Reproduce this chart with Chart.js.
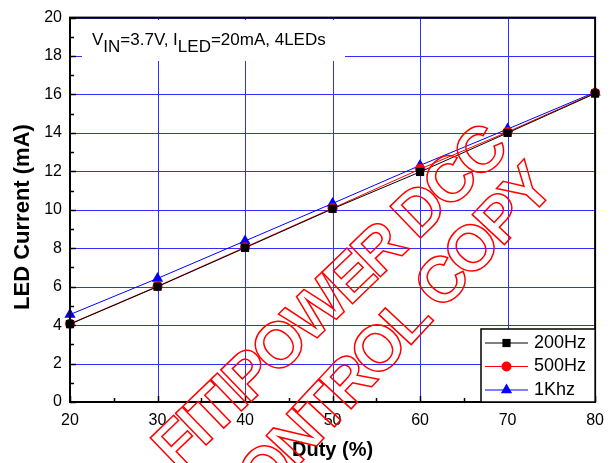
<!DOCTYPE html>
<html>
<head>
<meta charset="utf-8">
<script src="https://cdn.jsdelivr.net/npm/chart.js@4/dist/chart.umd.min.js"></script>
<style>
  html, body { margin: 0; padding: 0; background: #ffffff; }
  #wrap { width: 613px; height: 463px; }
</style>
</head>
<body>
<div id="wrap"><canvas id="c" width="613" height="463"></canvas></div>
<script>
// ---- data ----
const duty = [20, 30, 40, 50, 60, 70, 80];
const current200Hz = [4.05, 6.0, 8.02, 10.05, 11.97, 14.0, 16.05];
const current500Hz = [4.07, 6.02, 8.05, 10.08, 12.12, 14.05, 16.08];
const current1Khz = [4.55, 6.43, 8.38, 10.33, 12.31, 14.2, 16.12];
const seriesNames = ['200Hz', '500Hz', '1Khz'];
const xTickValues = [20, 30, 40, 50, 60, 70, 80];
const yTickValues = [0, 2, 4, 6, 8, 10, 12, 14, 16, 18, 20];
const xTitle = 'Duty (%)';
const yTitle = 'LED Current (mA)';
const noteParts = [['V', false], ['IN', true], ['=3.7V, I', false], ['LED', true], ['=20mA, 4LEDs', false]];
const watermarkLines = ['FITIPOWER DCC', 'CONTROL COPY'];

const FONT = '"Liberation Sans", Arial, sans-serif';
const GRID = '#2f2fff';
const toPoints = arr => duty.map((d, i) => ({ x: d, y: arr[i] }));

const styles = [
  { color: '#000000', point: 'rect', radius: 5.8 },
  { color: '#ff0000', point: 'circle', radius: 5 },
  { color: '#0000ff', point: 'triangle', radius: 6.5 }
];
const seriesData = [current200Hz, current500Hz, current1Khz];

const datasets = seriesData.map((arr, i) => ({
  label: seriesNames[i],
  data: toPoints(arr),
  borderColor: styles[i].color,
  backgroundColor: styles[i].color,
  borderWidth: 1,
  pointStyle: styles[i].point,
  pointRadius: styles[i].radius,
  pointBorderWidth: 0,
  pointHoverRadius: styles[i].radius,
  tension: 0,
  clip: false
}));

const chartDecor = {
  id: 'chartDecor',
  beforeDatasetsDraw(chart) {
    const ctx = chart.ctx;
    const a = chart.chartArea;
    const xs = chart.scales.x, ys = chart.scales.y;
    ctx.save();
    // grid lines from the scales' ticks
    ctx.strokeStyle = GRID;
    ctx.lineWidth = 1;
    ctx.beginPath();
    xs.ticks.forEach(t => {
      const px = Math.round(xs.getPixelForValue(t.value)) + 0.5;
      ctx.moveTo(px, a.top); ctx.lineTo(px, a.bottom);
    });
    ys.ticks.forEach(t => {
      const py = Math.round(ys.getPixelForValue(t.value)) + 0.5;
      ctx.moveTo(a.left, py); ctx.lineTo(a.right, py);
    });
    ctx.stroke();
    // annotation box covering the grid
    ctx.fillStyle = '#ffffff';
    ctx.fillRect(82, 20, 263, 41);
    let x = 92;
    const base = 45;
    for (const [txt, sub] of noteParts) {
      ctx.font = '17px ' + FONT;
      ctx.fillStyle = '#000';
      ctx.textBaseline = 'alphabetic';
      ctx.textAlign = 'left';
      ctx.fillText(txt, x, sub ? base + 7 : base);
      x += ctx.measureText(txt).width;
    }
    ctx.restore();
  },
  afterDraw(chart) {
    const ctx = chart.ctx;
    const a = chart.chartArea;
    const xs = chart.scales.x, ys = chart.scales.y;
    ctx.save();
    // frame
    ctx.strokeStyle = '#000';
    ctx.lineWidth = 2;
    ctx.strokeRect(a.left, a.top, a.right - a.left, a.bottom - a.top);
    // inward ticks
    ctx.lineWidth = 1.5;
    ctx.beginPath();
    for (let v = 20; v <= 80; v += 5) {
      const px = Math.round(xs.getPixelForValue(v)) + 0.5;
      const len = (v % 10 === 0) ? 6 : 4;
      ctx.moveTo(px, a.bottom); ctx.lineTo(px, a.bottom - len);
    }
    for (let v = 0; v <= 20; v += 1) {
      const py = Math.round(ys.getPixelForValue(v)) + 0.5;
      const len = (v % 2 === 0) ? 6 : 4;
      ctx.moveTo(a.left, py); ctx.lineTo(a.left + len, py);
    }
    ctx.stroke();

    // y title
    ctx.font = 'bold 22px ' + FONT;
    ctx.fillStyle = '#000';
    ctx.textAlign = 'center';
    ctx.textBaseline = 'middle';
    ctx.translate(23, 217);
    ctx.rotate(-Math.PI / 2);
    ctx.fillText(yTitle, 0, 0);
    ctx.setTransform(1, 0, 0, 1, 0, 0);

    // legend
    const lx = 481, ly = 329, lw = a.right - lx, lh = a.bottom - ly;
    ctx.fillStyle = '#fff';
    ctx.fillRect(lx, ly, lw, lh);
    ctx.strokeStyle = '#000';
    ctx.lineWidth = 1.5;
    ctx.strokeRect(lx, ly, lw, lh);
    const rows = [343, 366.5, 390];
    chart.data.datasets.forEach((ds, i) => {
      const y = rows[i];
      ctx.strokeStyle = ds.borderColor;
      ctx.lineWidth = 1;
      ctx.beginPath();
      ctx.moveTo(485, y); ctx.lineTo(528, y);
      ctx.stroke();
      ctx.fillStyle = ds.backgroundColor;
      Chart.helpers.drawPoint(ctx, { pointStyle: ds.pointStyle, radius: ds.pointRadius, rotation: 0, borderWidth: 0 }, 506.5, y);
      ctx.fillStyle = '#000';
      ctx.font = '18px ' + FONT;
      ctx.textAlign = 'left';
      ctx.textBaseline = 'middle';
      ctx.fillText(ds.label, 534, y);
    });

    // watermark
    ctx.font = 'bold 64px ' + FONT;
    try { ctx.letterSpacing = '-4px'; } catch (e) {}
    ctx.strokeStyle = '#ff0000';
    ctx.lineWidth = 1.5;
    ctx.lineJoin = 'miter';
    ctx.textAlign = 'center';
    ctx.textBaseline = 'middle';
    const wm = [[331, 300, -44], [382, 350, -47]];
    watermarkLines.forEach((t, i) => {
      ctx.setTransform(1, 0, 0, 1, 0, 0);
      ctx.translate(wm[i][0], wm[i][1]);
      ctx.rotate(wm[i][2] * Math.PI / 180);
      ctx.strokeText(t, 0, 0);
    });
    ctx.restore();
  }
};

new Chart(document.getElementById('c'), {
  type: 'line',
  data: { datasets },
  options: {
    responsive: false,
    animation: false,
    devicePixelRatio: 1,
    layout: { padding: { top: 14, right: 14, left: 0, bottom: 0 } },
    plugins: { legend: { display: false }, tooltip: { enabled: false } },
    scales: {
      x: {
        type: 'linear',
        min: 20, max: 80,
        afterBuildTicks: s => { s.ticks = xTickValues.map(v => ({ value: v })); },
        afterFit: s => { s.height = 61; },
        ticks: { color: '#000', font: { family: FONT, size: 16 }, padding: 9, maxRotation: 0 },
        grid: { display: false, drawTicks: false },
        border: { display: true, color: '#000', width: 2 },
        title: { display: true, text: xTitle, color: '#000', font: { family: FONT, size: 20, weight: 'bold' }, padding: { top: 0, bottom: 1 } }
      },
      y: {
        type: 'linear',
        min: 0, max: 20,
        afterBuildTicks: s => { s.ticks = yTickValues.map(v => ({ value: v })); },
        afterFit: s => { s.width = 70; },
        ticks: { color: '#000', font: { family: FONT, size: 16 }, padding: 8 },
        grid: { display: false, drawTicks: false },
        border: { display: true, color: '#000', width: 2 },
        title: { display: false }
      }
    }
  },
  plugins: [chartDecor]
});
</script>
</body>
</html>
